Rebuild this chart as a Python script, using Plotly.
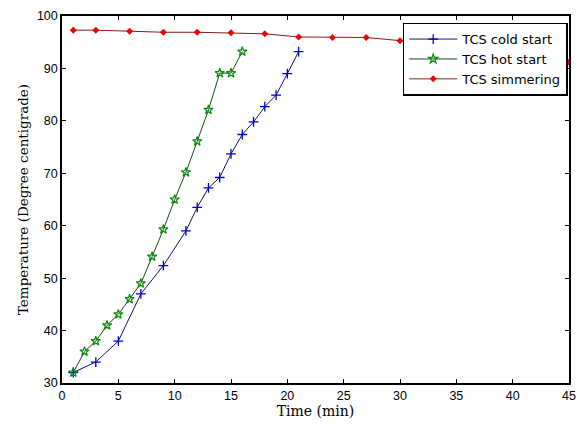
import plotly.graph_objects as go

cold_x = [1, 3, 5, 7, 9, 11, 12, 13, 14, 15, 16, 17, 18, 19, 20, 21]
cold_y = [32.0, 34.0, 38.0, 47.0, 52.4, 59.0, 63.5, 67.2, 69.2, 73.7, 77.4, 79.8, 82.7, 84.9, 89.0, 93.2]

hot_x = [1, 2, 3, 4, 5, 6, 7, 8, 9, 10, 11, 12, 13, 14, 15, 16]
hot_y = [32.0, 36.0, 38.0, 41.0, 43.1, 46.0, 49.0, 54.1, 59.3, 65.0, 70.2, 76.1, 82.1, 89.1, 89.1, 93.2]

sim_x = [1, 3, 6, 9, 12, 15, 18, 21, 24, 27, 30, 33, 36, 39, 42, 45]
sim_y = [97.3, 97.3, 97.1, 96.9, 96.9, 96.8, 96.6, 96.0, 95.9, 95.9, 95.3, 94.4, 93.5, 92.6, 91.8, 91.2]

x_ticks = [0, 5, 10, 15, 20, 25, 30, 35, 40, 45]
y_ticks = [30, 40, 50, 60, 70, 80, 90, 100]

fig = go.Figure()
fig.add_trace(go.Scatter(
    x=cold_x, y=cold_y, mode="lines+markers", name="TCS cold start",
    line=dict(color="#14146e", width=1),
    marker=dict(symbol="cross-thin", size=7, color="#0000cc",
                line=dict(color="#0000cc", width=1.3)),
))
fig.add_trace(go.Scatter(
    x=hot_x, y=hot_y, mode="lines+markers", name="TCS hot start",
    line=dict(color="#1a4d1a", width=1),
    marker=dict(symbol="star-open", size=7, color="#0a8a0a",
                line=dict(color="#0a8a0a", width=1.2)),
))
fig.add_trace(go.Scatter(
    x=sim_x, y=sim_y, mode="lines+markers", name="TCS simmering",
    line=dict(color="#8b1a1a", width=1),
    marker=dict(symbol="diamond", size=5, color="#ee0000",
                line=dict(color="#ee0000", width=0.5)),
))

axis_common = dict(
    showgrid=False, zeroline=False, showline=True, linecolor="black", linewidth=1.5,
    mirror="ticks", ticks="inside", ticklen=4, tickwidth=1, tickcolor="black",
    tickfont=dict(family="Liberation Sans, Arial", size=12.5, color="black"),
)

fig.update_layout(
    width=582, height=424,
    margin=dict(l=62, r=6, t=16, b=41),
    paper_bgcolor="white", plot_bgcolor="white",
    showlegend=True,
    legend=dict(
        x=0.672, y=0.982, xanchor="left", yanchor="top",
        bgcolor="white", bordercolor="black", borderwidth=1.5,
        font=dict(family="DejaVu Sans", size=13, color="black"),
        tracegroupgap=0, itemwidth=48,
    ),
    xaxis=dict(range=[0, 45], tickvals=x_ticks,
               title=dict(text="Time (min)", standoff=3,
                          font=dict(family="DejaVu Serif", size=14, color="black")),
               **axis_common),
    yaxis=dict(range=[30, 100], tickvals=y_ticks,
               title=dict(text="Temperature (Degree centigrade)", standoff=5,
                          font=dict(family="DejaVu Serif", size=13.5, color="black")),
               **axis_common),
)

fig.write_html("out.html")
